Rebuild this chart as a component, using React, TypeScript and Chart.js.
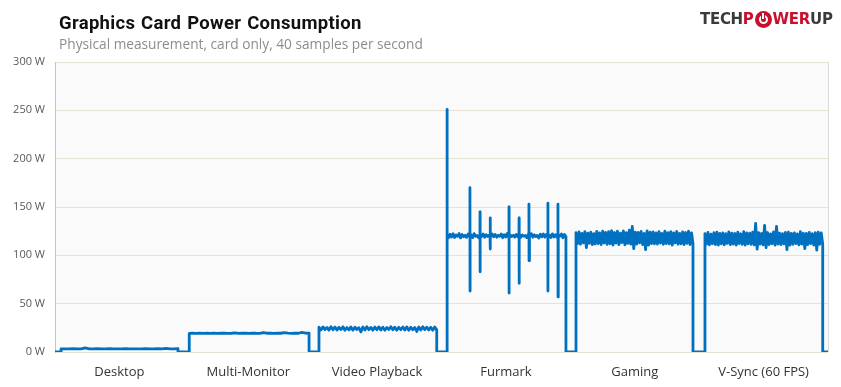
import React, { useEffect, useRef } from 'react';
import { Chart, registerables } from 'chart.js';

Chart.register(...registerables);

// ---------- data ----------
const categories = ['Desktop', 'Multi-Monitor', 'Video Playback', 'Furmark', 'Gaming', 'V-Sync (60 FPS)'];
const categoryCenters = [50, 150, 250, 350, 450, 550];
const yTicks = [0, 50, 100, 150, 200, 250, 300];

// time span (x units) in which each test is running
const segmentStart = [4.7, 104.2, 204.9, 304.3, 404.4, 504.5];
const segmentEnd = [95.5, 197.2, 296.3, 396.6, 495.2, 595.9];

const desktopW = [3.2, 3.3, 3.2, 3.4, 3.3, 3.2, 4.2, 3.3, 3.2, 3.5, 3.3, 3.2, 3.4, 3.3, 3.2, 3.3, 3.4, 3.2, 3.3, 3.2, 3.3, 3.5, 3.3, 3.2, 3.4, 3.3, 3.8, 3.2, 3.3, 3.4];

const multiMonitorW = [19.2, 19.4, 19.3, 19.5, 19.3, 19.4, 19.2, 19.6, 19.3, 19.4, 19.5, 19.3, 19.4, 19.8, 19.3, 19.4, 19.5, 19.3, 19.6, 19.4, 19.3, 20.1, 19.4, 19.5, 19.3, 19.6, 19.4, 20.0, 19.5, 19.3, 19.6, 19.4, 20.2, 19.5, 19.4];

const videoW = [25.6, 22.8, 26.0, 23.1, 25.4, 22.6, 26.2, 23.0, 25.8, 22.7, 25.5, 23.2, 26.1, 22.5, 25.3, 22.9, 26.0, 22.6, 25.7, 23.3, 25.2, 20.8, 25.9, 22.8, 26.1, 23.1, 25.4, 22.6, 25.8, 23.0, 26.0, 22.7, 25.6, 22.5, 25.3, 23.2, 26.2, 22.9, 25.7, 22.6, 25.5, 23.1, 25.9, 22.8, 26.0, 22.4, 25.6, 23.0, 25.4, 21.2, 25.8, 22.7, 26.1, 23.2, 25.7, 22.8, 25.5, 22.6, 25.9, 22.9];

const furmarkW = [120.5, 118.2, 121.8, 119.0, 122.3, 118.5, 121.0, 119.6, 122.5, 118.0, 121.5, 119.2, 120.8, 118.6, 122.0, 119.4, 121.2, 118.3, 122.4, 119.8, 120.6, 118.1, 121.9, 119.3, 122.1, 118.7, 121.4, 119.5, 120.9, 118.4, 122.2, 119.1, 121.6, 118.8, 120.7, 119.7, 122.0, 118.2, 121.3, 119.0, 122.6, 118.5, 121.1, 119.4, 120.8, 118.9, 121.7, 119.2, 122.3, 118.6, 121.0, 119.8, 120.5, 118.3, 121.8, 119.1, 122.4, 118.7, 121.2, 119.5, 120.6, 118.0, 121.9, 119.3, 122.0, 118.8, 121.5, 119.6, 120.9, 118.4, 122.2, 119.0, 121.4, 118.6, 120.7, 119.9, 122.1, 118.2, 121.6, 119.4];
const furmarkBase = 120;
const furmarkSpikeTime = [304.35, 322.1, 329.9, 337.7, 352.4, 360.2, 367.9, 382.6, 390.4];
const furmarkSpikeHigh = [251, 170, 145, 138.6, 150, 138.6, 153, 154, 153];
const furmarkSpikeLow = [120, 63, 83, 106.5, 61, 71, 94.5, 63, 57];

const gamingW = [123.5, 112.0, 124.2, 111.5, 122.8, 113.0, 124.6, 108.0, 123.0, 112.5, 124.0, 111.0, 122.5, 111.8, 124.8, 112.2, 123.3, 111.0, 125.0, 112.8, 123.8, 111.4, 124.4, 112.0, 125.5, 110.5, 123.6, 112.6, 124.9, 111.2, 122.9, 113.2, 125.2, 110.9, 123.4, 112.3, 126.0, 111.5, 130.0, 107.0, 124.1, 111.6, 123.7, 112.9, 124.7, 111.1, 122.6, 106.0, 125.3, 110.6, 123.9, 112.1, 124.3, 111.8, 123.2, 111.7, 124.6, 112.7, 122.8, 111.3, 125.0, 112.2, 123.5, 111.9, 124.5, 110.7, 123.1, 112.8, 124.8, 111.5, 122.7, 112.0, 124.2, 111.2, 123.6, 112.5, 124.9, 111.0, 123.3, 112.3];

const vsyncW = [122.5, 111.5, 123.8, 110.8, 122.0, 112.0, 123.5, 111.2, 124.0, 110.5, 122.8, 111.8, 123.2, 110.9, 122.4, 112.3, 124.2, 111.0, 123.0, 111.6, 122.6, 110.7, 123.9, 112.1, 122.3, 111.3, 124.5, 110.6, 123.1, 111.9, 122.9, 111.4, 124.0, 110.8, 133.0, 106.5, 123.4, 111.7, 122.7, 110.9, 131.0, 108.0, 123.6, 111.2, 122.2, 112.0, 124.3, 110.5, 130.0, 111.5, 123.0, 111.1, 122.5, 111.8, 123.7, 106.0, 124.1, 110.7, 122.8, 111.3, 123.3, 112.2, 122.1, 110.9, 124.4, 111.6, 123.0, 107.0, 122.6, 111.0, 123.8, 112.1, 122.4, 110.6, 123.5, 105.5, 124.0, 111.4, 123.2, 111.9];

const segments = [desktopW, multiMonitorW, videoW, furmarkW, gamingW, vsyncW];

function buildPoints() {
  const pts: { x: number; y: number }[] = [{ x: 0, y: 0 }];
  segments.forEach((vals, i) => {
    const s = segmentStart[i];
    const e = segmentEnd[i];
    let seg: { x: number; y: number }[] = [{ x: s, y: 0 }];
    vals.forEach((v, j) => seg.push({ x: s + ((e - s) * j) / (vals.length - 1), y: v }));
    if (i === 3) {
      furmarkSpikeTime.forEach((t, k) => {
        seg.push({ x: t - 0.05, y: furmarkBase });
        seg.push({ x: t, y: furmarkSpikeHigh[k] });
        seg.push({ x: t + 0.05, y: furmarkSpikeLow[k] });
        seg.push({ x: t + 0.1, y: furmarkBase });
      });
      seg = seg.slice().sort((a, b) => a.x - b.x);
    }
    seg.push({ x: e, y: 0 });
    pts.push(...seg);
  });
  pts.push({ x: 600, y: 0 });
  return pts;
}

const plotBgPlugin = {
  id: 'plotBg',
  beforeDraw(chart: any) {
    const { ctx, chartArea } = chart;
    const { left, top, right, bottom } = chartArea;
    ctx.save();
    ctx.fillStyle = '#fafafa';
    ctx.fillRect(left, top, right - left, bottom - top);
    ctx.restore();
  },
  beforeDatasetsDraw(chart: any) {
    const { ctx, chartArea } = chart;
    const { top, right, bottom } = chartArea;
    ctx.save();
    ctx.strokeStyle = '#dcdcdc';
    ctx.lineWidth = 1;
    ctx.beginPath();
    ctx.moveTo(Math.round(right) + 0.5, top);
    ctx.lineTo(Math.round(right) + 0.5, bottom);
    ctx.stroke();
    ctx.restore();
  },
};

export default function App() {
  const canvasRef = useRef<HTMLCanvasElement | null>(null);

  useEffect(() => {
    document.body.style.margin = '0';
    const canvas = canvasRef.current;
    if (!canvas) return;
    const chart = new Chart(canvas, {
      type: 'line',
      data: {
        datasets: [
          {
            data: buildPoints(),
            borderColor: '#0070c0',
            borderWidth: 2.8,
            pointRadius: 0,
            fill: false,
            tension: 0,
            borderJoinStyle: 'round',
          },
        ],
      },
      options: {
        responsive: false,
        devicePixelRatio: 1,
        animation: false,
        layout: { padding: { top: 62, right: 13, left: 0, bottom: 0 } },
        plugins: {
          legend: { display: false },
          tooltip: { enabled: false },
          title: { display: false },
        },
        scales: {
          x: {
            type: 'linear',
            min: 0,
            max: 600,
            grid: { display: false, drawTicks: false },
            border: { display: false },
            afterBuildTicks: (axis: any) => {
              axis.ticks = categoryCenters.map((v) => ({ value: v }));
            },
            afterFit: (axis: any) => {
              axis.height = 35;
            },
            ticks: {
              autoSkip: false,
              maxRotation: 0,
              padding: 12,
              color: '#333333',
              font: { family: '"Open Sans", sans-serif', size: 13 },
              callback: (_v: any, index: number) => categories[index],
            },
          },
          y: {
            min: 0,
            max: 300,
            grid: { color: '#e6e3d3', drawTicks: false, lineWidth: 1 },
            border: { display: true, color: '#c4c4c4', width: 1 },
            afterBuildTicks: (axis: any) => {
              axis.ticks = yTicks.map((v) => ({ value: v }));
            },
            afterFit: (axis: any) => {
              axis.width = 55;
            },
            ticks: {
              padding: 10,
              color: '#595959',
              font: { family: '"Open Sans", sans-serif', size: 11 },
              callback: (v: any) => `${v} W`,
            },
          },
        },
      },
      plugins: [plotBgPlugin],
    } as any);
    return () => chart.destroy();
  }, []);

  return (
    <div style={{ position: 'relative', width: 841, height: 387, background: '#ffffff', overflow: 'hidden' }}>
      <canvas ref={canvasRef} width={841} height={387} style={{ position: 'absolute', left: 0, top: 0, display: 'block' }} />
      <div
        style={{
          position: 'absolute',
          left: 59,
          top: 14,
          fontFamily: 'Roboto, sans-serif',
          fontWeight: 700,
          fontSize: 18.5,
          lineHeight: '18.5px',
          letterSpacing: '0.3px',
          wordSpacing: '1px',
          color: '#111111',
          whiteSpace: 'nowrap',
        }}
      >
        Graphics Card Power Consumption
      </div>
      <div
        style={{
          position: 'absolute',
          left: 59,
          top: 37,
          fontFamily: '"Open Sans", sans-serif',
          fontSize: 13.7,
          lineHeight: '14px',
          color: '#8c8c8c',
          whiteSpace: 'nowrap',
        }}
      >
        Physical measurement, card only, 40 samples per second
      </div>
      <div
        style={{
          position: 'absolute',
          left: 700,
          top: 11,
          display: 'flex',
          alignItems: 'center',
          fontFamily: '"DejaVu Sans", sans-serif',
          fontWeight: 700,
          fontSize: 15,
          lineHeight: '15px',
          whiteSpace: 'nowrap',
          letterSpacing: '-0.3px',
        }}
      >
        <span style={{ color: '#3a3a3a' }}>TECH</span>
        <span style={{ color: '#c8102e' }}>P</span>
        <span
          style={{
            display: 'inline-block',
            position: 'relative',
            width: 17,
            height: 17,
            borderRadius: '50%',
            background: '#c8102e',
            margin: '0 1px',
          }}
        >
          <span
            style={{
              position: 'absolute',
              left: 4,
              top: 4,
              width: 5,
              height: 5,
              borderRadius: '50%',
              border: '2px solid #ffffff',
            }}
          />
          <span
            style={{
              position: 'absolute',
              left: 7.5,
              top: 2,
              width: 2,
              height: 6,
              background: '#ffffff',
              boxShadow: '0 0 0 1px #c8102e',
            }}
          />
        </span>
        <span style={{ color: '#c8102e' }}>WER</span>
        <span style={{ color: '#3a3a3a' }}>UP</span>
      </div>
    </div>
  );
}
